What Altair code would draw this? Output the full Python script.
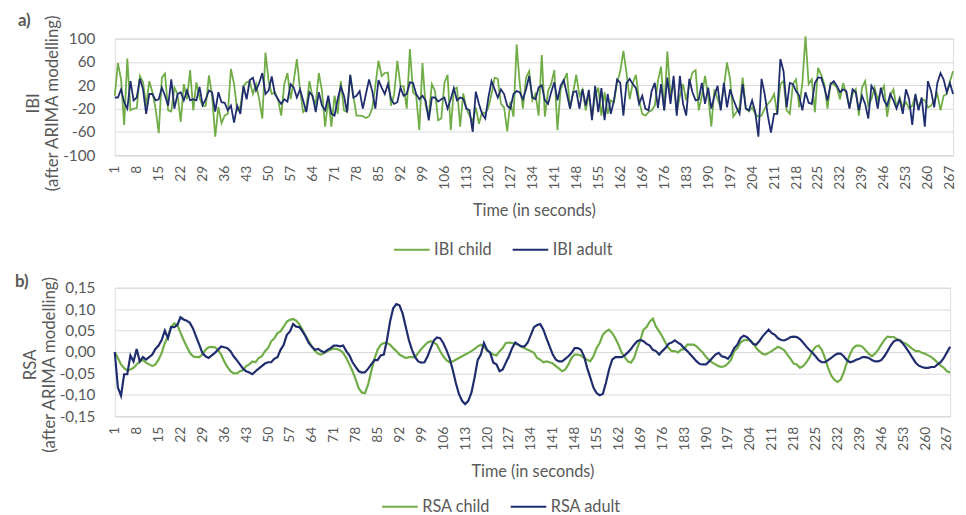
import altair as alt
import pandas as pd

GREEN = "#70AD47"
NAVY = "#1F2C6E"
GRID = "#D9D9D9"
TXT = "#595959"
FONT = "Lato"

time_ticks = list(range(1, 268, 7))
ibi_ticks = [-100, -60, -20, 20, 60, 100]
rsa_ticks = [-0.15, -0.10, -0.05, 0.0, 0.05, 0.10, 0.15]

# ---------------- IBI (panel a) ----------------
ibi_child_a = [2, 58, 30, -48, 66, -23, -20, -19, 36, 25,
               -15, 27, 8, -20, -62, 33, 40, -23, -25, 16,
               5, -43, 22, -4, 46, -23, 25, -1, -16, -15,
               37, 2, -68, -17, -45, -32, -29, 48, 22, -23,
               -17, 19, 25, 27, 5, 22, -4, -37, 76, 27,
               5, 8, -4, -32, 22, 41, -4, 27, 65, 13,
               -26, -20, 27, -1, -12, 41]
ibi_child_b = [10, -51, -4, -51, 2, -29, 27, -23, -26, 38,
               2, -32, -32, -33, -36, -33, -20, 19, 62, 36,
               41, 42, -15, 5, 62, 19, 18, -20, 82, 8,
               2, -57, 58, -15, -32, 22, 10, -40, -37, 24,
               38, -57, 13, 16, -51, 6, -20, -32, -43, -18,
               -46, -26, -29, -18, 5, 33, 31, -12, -18, -59,
               -8, -34, 90, 22]
ibi_child_c = [-20, 33, 44, -6, 5, -32, 72, -34, 10, 22,
               46, -57, 13, 27, 41, -20, 8, 38, 2, 13,
               -23, 5, -34, 2, 16, -32, 8, -29, -6, -9,
               24, 44, 79, 41, -4, 24, 38, -6, -29, -32,
               -26, -23, -15, 27, 52, -23, 78, 2, 24, -26,
               2, 22, -6, 22, 42, 46, -23, 2, 36, 2,
               -51, 13, -4, -18, 16, 59, 30, -34, -26]
ibi_child_d = [-18, 33, -20, -25, -18, -29, -34, -32, -20, -12,
               -6, 5, -29, 22, 27, -23, -29, 22, 30, -18,
               24, 104, 22, 30, -26, 50, 38, 22, -20, 24,
               22, 16, -4, 24, 5, -18, 5, 13, -32, 16,
               27, -15, -4, 16, -4, 8, 19, -34, 2, 13,
               -18, -1, -18, -9, -20, -15, 2, -18, -4, -6,
               -18, -15, -6, 5, -23, 2, 5, 27, 44]

ibi_adult_a = [-1, -1, 13, -9, -20, 27, -6, -1, 31, 13,
               -29, 5, 5, -6, -4, 16, 2, -15, 30, -20,
               5, 8, -6, 11, -6, -4, -6, 17, -14, -4,
               11, 8, -25, 8, -9, -10, -23, -15, -44, -15,
               -29, 19, -4, 29, 33, 11, 24, 41, 5, 11,
               35, 5, -4, -12, -4, -8, 22, 16, -1, 13,
               -6, -26, 8, 2, -26, 8]
ibi_adult_b = [-15, -23, 2, -29, -32, -4, 18, 2, -26, 38,
               -1, 2, 10, -20, 5, 30, 10, -20, 29, 16,
               5, 22, -4, -12, -9, 16, 2, 5, 25, 24,
               5, -4, 2, -6, -40, -1, -1, -8, -4, -1,
               -20, -4, 15, -6, -1, -3, -20, -23, -60, 9,
               -12, -29, -37, -1, 27, 13, -1, 13, 5, -15,
               -20, 5, 10, 8]
ibi_adult_c = [-4, 13, 36, -1, -4, 16, 20, -6, -12, 8,
               25, -6, 19, 29, 5, -20, 8, 10, -20, 13,
               -15, 12, -40, 19, -26, 15, -40, 5, -29, -6,
               30, 24, -32, 24, 31, 22, 15, -12, 2, -20,
               -23, 10, 24, -19, 22, -23, 33, -12, 36, -32,
               36, -12, -32, 31, 8, -6, -4, 24, -12, 16,
               -20, 2, 19, -23, 24, -18, 13, -4, -18]
ibi_adult_d = [-29, 22, -20, -23, -6, -26, -68, 31, 5, -32,
               -61, -29, -29, 65, 44, -18, 24, 22, 10, 2,
               -23, 8, -10, -12, 24, 33, 33, 16, -6, 22,
               27, 19, 8, 13, 10, -20, 13, 8, -23, 2,
               -12, -37, 19, 10, -20, 16, -6, -15, 5, -6,
               -20, -4, -29, 13, -4, -48, 5, -23, -1, -51,
               27, 10, -18, 24, 41, 30, 8, 24, 5]

# ---------------- RSA (panel b) ----------------
rsa_child_a = [0.000, -0.014, -0.029, -0.038, -0.043, -0.041, -0.037, -0.029, -0.022, -0.019,
               -0.025, -0.029, -0.033, -0.029, -0.018, -0.002, 0.021, 0.036, 0.059, 0.067,
               0.063, 0.045, 0.028, 0.013, -0.002, -0.010, -0.012, -0.012, -0.006, 0.005,
               0.011, 0.012, 0.011, 0.005, -0.006, -0.022, -0.035, -0.045, -0.050, -0.050,
               -0.045, -0.043, -0.033, -0.029, -0.022, -0.024, -0.014, -0.010, 0.002, 0.009,
               0.025, 0.032, 0.044, 0.048, 0.059, 0.071, 0.075, 0.077, 0.073, 0.065,
               0.052, 0.038, 0.025, 0.013, 0.002]
rsa_child_b = [-0.004, -0.006, -0.002, 0.002, 0.005, 0.008, 0.007, 0.004, -0.002, -0.014,
               -0.029, -0.045, -0.064, -0.085, -0.095, -0.096, -0.075, -0.045, -0.016, 0.005,
               0.017, 0.021, 0.021, 0.017, 0.009, 0.002, -0.006, -0.010, -0.014, -0.012,
               -0.012, -0.012, -0.002, 0.007, 0.015, 0.022, 0.025, 0.022, 0.017, 0.002,
               -0.010, -0.019, -0.024, -0.022, -0.018, -0.014, -0.010, -0.006, -0.002, 0.002,
               0.007, 0.013, 0.017, 0.013, 0.003, -0.001, -0.006, -0.008, 0.002, 0.009,
               0.021, 0.022, 0.021, 0.019, 0.017, 0.012]
rsa_child_c = [0.009, 0.005, 0.002, -0.002, -0.014, -0.018, -0.024, -0.022, -0.024, -0.027,
               -0.033, -0.039, -0.045, -0.041, -0.029, -0.014, -0.006, -0.006, -0.008, -0.014,
               -0.018, -0.022, -0.010, 0.009, 0.021, 0.040, 0.048, 0.052, 0.044, 0.032,
               0.017, -0.001, -0.012, -0.022, -0.025, -0.014, 0.009, 0.028, 0.052, 0.058,
               0.071, 0.078, 0.059, 0.048, 0.036, 0.022, 0.009, 0.002, 0.002, -0.001,
               0.005, 0.007, 0.017, 0.017, 0.017, 0.013, 0.005, -0.002, -0.012, -0.019,
               -0.025, -0.029, -0.033, -0.035, -0.033, -0.027, -0.018, 0.002]
rsa_child_d = [0.009, 0.022, 0.027, 0.028, 0.027, 0.021, 0.009, 0.002, -0.004, -0.006,
               -0.002, 0.002, 0.007, 0.012, 0.009, 0.004, -0.006, -0.016, -0.027, -0.029,
               -0.037, -0.033, -0.025, -0.014, 0.002, 0.012, 0.015, 0.005, -0.014, -0.037,
               -0.055, -0.065, -0.070, -0.065, -0.048, -0.025, -0.006, 0.009, 0.015, 0.015,
               0.012, 0.004, -0.004, -0.010, -0.004, 0.005, 0.017, 0.028, 0.036, 0.035,
               0.035, 0.030, 0.027, 0.022, 0.019, 0.013, 0.007, 0.002, 0.002, -0.002,
               -0.004, -0.008, -0.012, -0.018, -0.025, -0.032, -0.037, -0.045, -0.048]

rsa_adult_a = [0.000, -0.083, -0.102, -0.052, -0.052, -0.008, -0.022, 0.007, -0.022, -0.012,
               -0.018, -0.012, -0.006, 0.007, 0.015, 0.028, 0.050, 0.032, 0.058, 0.058,
               0.063, 0.081, 0.076, 0.073, 0.068, 0.055, 0.036, 0.017, -0.002, -0.010,
               -0.014, -0.008, -0.002, 0.005, 0.013, 0.011, 0.009, 0.002, -0.010, -0.019,
               -0.029, -0.039, -0.045, -0.048, -0.052, -0.045, -0.039, -0.033, -0.027, -0.024,
               -0.024, -0.016, -0.012, 0.005, 0.017, 0.040, 0.048, 0.065, 0.059, 0.058,
               0.048, 0.036, 0.021, 0.012, 0.005]
rsa_adult_b = [0.007, 0.002, -0.001, 0.005, 0.009, 0.015, 0.015, 0.013, 0.015, 0.002,
               -0.008, -0.024, -0.035, -0.045, -0.048, -0.047, -0.039, -0.029, -0.019, -0.019,
               -0.008, -0.006, 0.028, 0.071, 0.102, 0.112, 0.109, 0.090, 0.059, 0.028,
               0.005, -0.012, -0.022, -0.025, -0.024, -0.010, 0.009, 0.027, 0.034, 0.032,
               0.021, 0.005, -0.014, -0.041, -0.072, -0.098, -0.114, -0.122, -0.114, -0.095,
               -0.060, -0.019, -0.006, 0.021, 0.005, -0.002, -0.025, -0.029, -0.045, -0.041,
               -0.025, -0.010, 0.009, 0.022, 0.017, 0.013]
rsa_adult_c = [0.013, 0.022, 0.040, 0.058, 0.063, 0.065, 0.052, 0.032, 0.013, -0.006,
               -0.018, -0.022, -0.022, -0.016, -0.010, -0.002, 0.009, 0.009, 0.005, -0.010,
               -0.037, -0.060, -0.083, -0.096, -0.101, -0.098, -0.072, -0.041, -0.018, -0.012,
               -0.012, -0.012, -0.008, -0.001, 0.007, 0.017, 0.025, 0.028, 0.025, 0.019,
               0.015, 0.005, 0.002, -0.006, 0.002, 0.009, 0.019, 0.022, 0.027, 0.022,
               0.017, 0.009, 0.002, -0.006, -0.014, -0.022, -0.028, -0.029, -0.029, -0.022,
               -0.014, -0.006, -0.002, -0.010, -0.012, -0.016, -0.006, 0.009]
rsa_adult_d = [0.017, 0.032, 0.038, 0.035, 0.028, 0.019, 0.017, 0.025, 0.036, 0.044,
               0.052, 0.044, 0.040, 0.032, 0.028, 0.027, 0.030, 0.035, 0.036, 0.035,
               0.030, 0.022, 0.013, 0.005, -0.002, -0.010, -0.019, -0.024, -0.024, -0.019,
               -0.014, -0.008, -0.004, -0.004, -0.010, -0.019, -0.024, -0.022, -0.018, -0.016,
               -0.012, -0.012, -0.014, -0.019, -0.022, -0.022, -0.019, -0.010, 0.002, 0.015,
               0.025, 0.028, 0.027, 0.019, 0.009, -0.002, -0.014, -0.025, -0.032, -0.035,
               -0.037, -0.037, -0.035, -0.035, -0.029, -0.024, -0.014, -0.001, 0.012]

ibi_child = ibi_child_a + ibi_child_b + ibi_child_c + ibi_child_d
ibi_adult = ibi_adult_a + ibi_adult_b + ibi_adult_c + ibi_adult_d
rsa_child = rsa_child_a + rsa_child_b + rsa_child_c + rsa_child_d
rsa_adult = rsa_adult_a + rsa_adult_b + rsa_adult_c + rsa_adult_d


def long_df(child, adult, names):
    rows = []
    for i, v in enumerate(child):
        rows.append({"t": i + 1, "value": v, "series": names[0]})
    for i, v in enumerate(adult):
        rows.append({"t": i + 1, "value": v, "series": names[1]})
    return pd.DataFrame(rows)


ibi_names = ["IBI child", "IBI adult"]
rsa_names = ["RSA child", "RSA adult"]
ibi_df = long_df(ibi_child, ibi_adult, ibi_names)
rsa_df = long_df(rsa_child, rsa_adult, rsa_names)
n_max = max(len(ibi_child), len(ibi_adult), len(rsa_child), len(rsa_adult))


def x_axis():
    return alt.Axis(values=time_ticks, labelAngle=-90, labelFontSize=14,
                    labelColor=TXT, labelFont=FONT, labelPadding=10,
                    labelFlush=False, labelOverlap=False, grid=False, ticks=False,
                    domain=True, domainColor=GRID, title="Time (in seconds)",
                    titleFont=FONT, titleFontSize=16.5, titleFontWeight="normal",
                    titleColor=TXT, titlePadding=14)


def legend(lx, ly):
    return alt.Legend(title=None, orient="none", direction="horizontal",
                      legendX=lx, legendY=ly, symbolType="stroke",
                      symbolSize=1300, symbolStrokeWidth=2, labelFont=FONT,
                      labelFontSize=16.5, labelColor=TXT, columnPadding=16,
                      labelOffset=3, padding=0)


def panel(df, names, ticks, domain, ytitle, label_expr, tag, tag_x, tag_y, w, h,
          lx, ly, sw, title_x, title_y):
    lines = alt.Chart(df).mark_line(strokeWidth=sw, clip=False).encode(
        x=alt.X("t:Q", scale=alt.Scale(domain=[1, n_max], nice=False, zero=False),
                axis=x_axis()),
        y=alt.Y("value:Q", scale=alt.Scale(domain=domain, nice=False, zero=False),
                axis=alt.Axis(values=ticks, labelExpr=label_expr, labelFont=FONT,
                              labelFontSize=15.5, labelColor=TXT, labelPadding=20,
                              ticks=False, domain=False, gridColor=GRID,
                              gridWidth=1, title=None)),
        color=alt.Color("series:N", scale=alt.Scale(domain=names, range=[GREEN, NAVY]),
                        legend=legend(lx, ly)),
        detail="series:N",
    )
    tag_df = pd.DataFrame({"tag": [tag]})
    tag_mark = alt.Chart(tag_df).mark_text(align="left", baseline="middle",
                                           font=FONT, fontSize=17, fontWeight="bold",
                                           color=TXT).encode(
        text="tag:N", x=alt.value(tag_x), y=alt.value(tag_y))
    title_df = pd.DataFrame({"line": ytitle, "pos": [0, 1]})
    t1 = alt.Chart(title_df.iloc[[0]]).mark_text(
        angle=270, align="center", baseline="middle", font=FONT, fontSize=17,
        color=TXT).encode(text="line:N", x=alt.value(title_x[0]), y=alt.value(title_y))
    t2 = alt.Chart(title_df.iloc[[1]]).mark_text(
        angle=270, align="center", baseline="middle", font=FONT, fontSize=17,
        color=TXT).encode(text="line:N", x=alt.value(title_x[1]), y=alt.value(title_y))
    return alt.layer(lines, tag_mark, t1, t2).properties(width=w, height=h)


top = panel(ibi_df, ibi_names, ibi_ticks, [-100, 100],
            ["IBI", "(after ARIMA modelling)"], "'' + datum.value",
            "a)", -98, -18, 848, 118, 281, 194, 1.8, (-82, -62), 65.5)

bottom = panel(rsa_df, rsa_names, rsa_ticks, [-0.15, 0.15],
               ["RSA", "(after ARIMA modelling)"],
               "(datum.value < -0.0001 ? '-' : '') + replace(format(abs(datum.value), '.2f'), '.', ',')",
               "b)", -101, -6, 845, 130, 269, 202, 2.2, (-85, -65), 78)

chart = alt.vconcat(top, bottom, spacing=13).resolve_scale(
    color="independent").resolve_legend(color="independent").properties(
    padding={"left": 6, "top": 0, "right": 0, "bottom": 0}
).configure_view(stroke=None).configure(background="white")

chart.save("out.html", embed_options={"renderer": "svg", "actions": False})
